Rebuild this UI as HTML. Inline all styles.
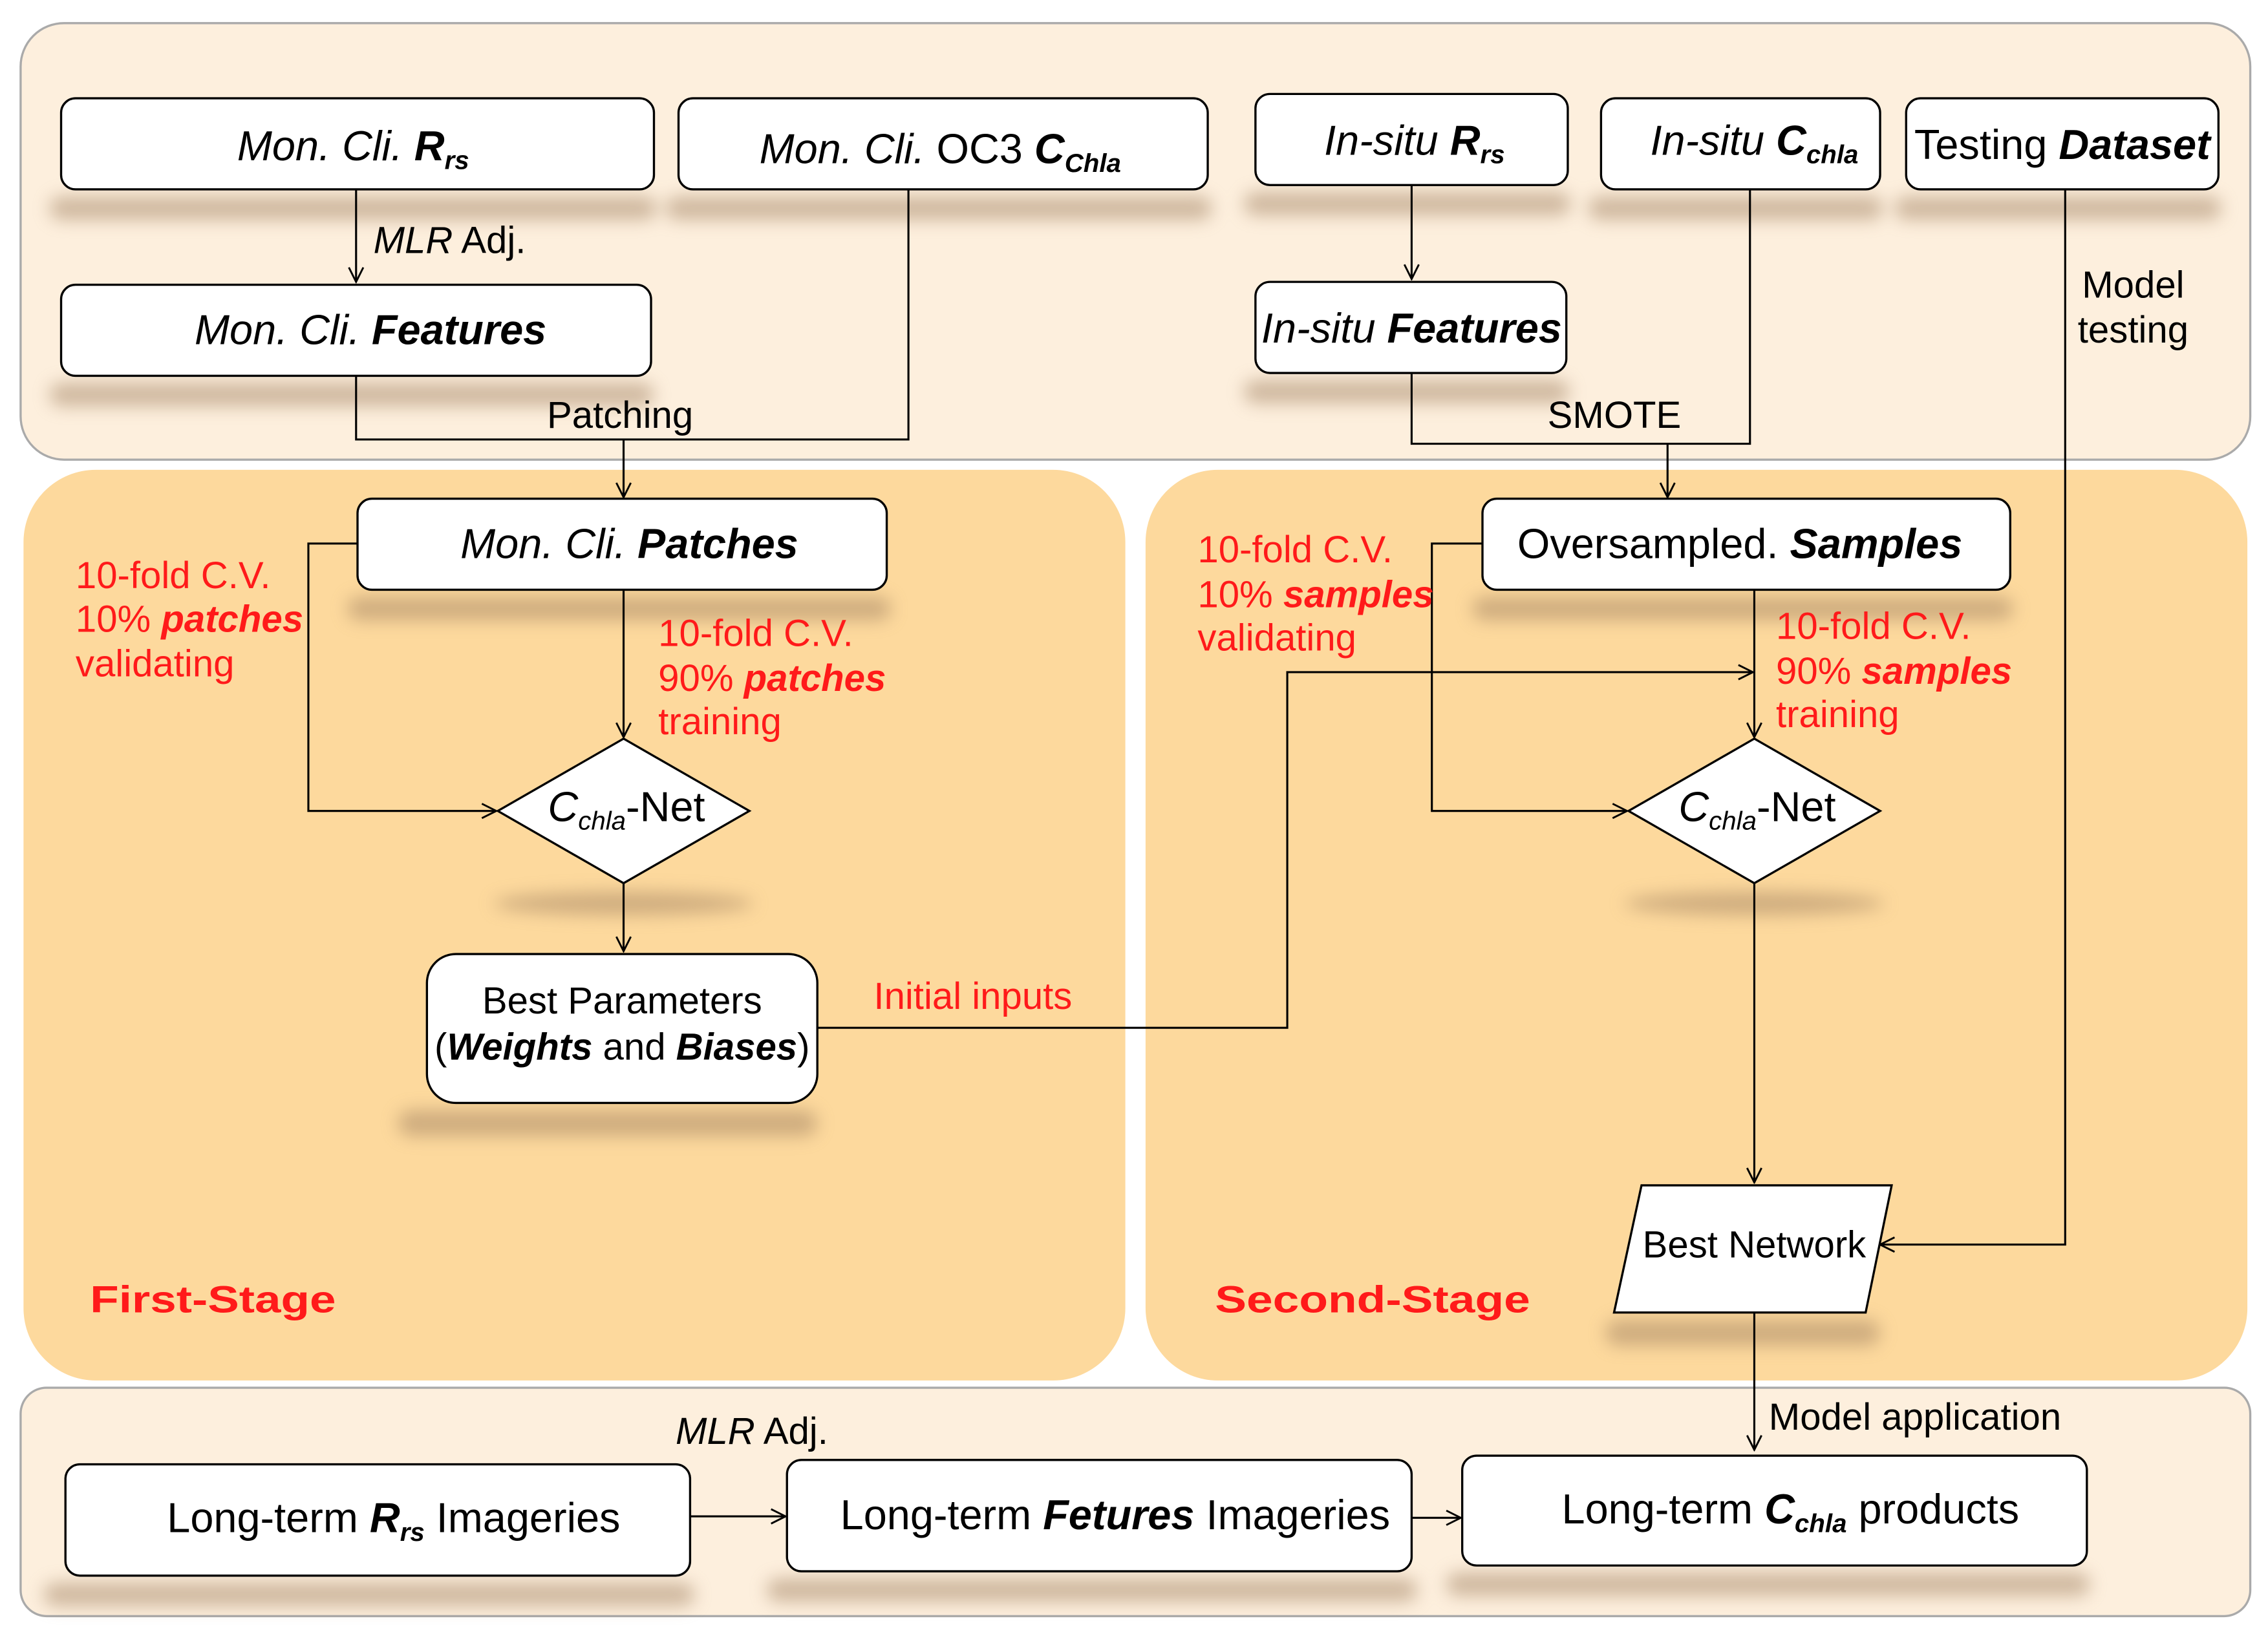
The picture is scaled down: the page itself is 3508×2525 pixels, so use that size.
<!DOCTYPE html>
<html><head><meta charset="utf-8"><style>
html,body{margin:0;padding:0;background:#fff;}
svg{display:block;}
text{font-family:"Liberation Sans",Arial,sans-serif;font-size:26px;fill:#000;}
.b{font-size:29px;}
.r{fill:#ff1a1a;}
</style></head><body>
<svg width="3508" height="2525" viewBox="0 0 1568 1129" xmlns="http://www.w3.org/2000/svg">
<defs>
<filter id="sh" x="-20%" y="-150%" width="140%" height="400%"><feGaussianBlur stdDeviation="6"/></filter>
<marker id="a" viewBox="0 0 12 12" refX="11" refY="6" markerWidth="12" markerHeight="12" markerUnits="userSpaceOnUse" orient="auto"><path d="M1,1 L11,6 L1,11" fill="none" stroke="#000" stroke-width="1.3"/></marker>
</defs>
<rect x="14" y="16" width="1542" height="302" rx="30" fill="#fdefdd" stroke="#aaa" stroke-width="1.5"/>
<rect x="16" y="325" width="762" height="630" rx="50" fill="#fdd99d"/>
<rect x="792" y="325" width="762" height="630" rx="50" fill="#fdd99d"/>
<rect x="14" y="960" width="1542" height="158" rx="18" fill="#fdefdd" stroke="#aaa" stroke-width="1.5"/>
<g fill="#a08060" opacity="0.5" filter="url(#sh)">
<rect x="34" y="136" width="420" height="16" rx="8"/>
<rect x="460" y="136" width="378" height="16" rx="8"/>
<rect x="34" y="265" width="418" height="16" rx="8"/>
<rect x="860" y="133" width="226" height="16" rx="8"/>
<rect x="1098" y="136" width="204" height="16" rx="8"/>
<rect x="1310" y="136" width="226" height="16" rx="8"/>
<rect x="860" y="263" width="225" height="16" rx="8"/>
<rect x="240" y="413" width="376" height="16" rx="8"/>
<rect x="1018" y="413" width="374" height="16" rx="8"/>
<ellipse cx="431" cy="625" rx="90" ry="8"/>
<ellipse cx="1213" cy="625" rx="90" ry="8"/>
<rect x="275" y="768" width="290" height="18" rx="9"/>
<rect x="1110" y="913" width="190" height="18" rx="9"/>
<rect x="30" y="1095" width="450" height="16" rx="8"/>
<rect x="530" y="1092" width="450" height="16" rx="8"/>
<rect x="1000" y="1088" width="445" height="16" rx="8"/>
</g>
<g fill="#fff" stroke="#000" stroke-width="1.5">
<rect x="42" y="68" width="410" height="63" rx="10"/>
<rect x="469" y="68" width="366" height="63" rx="10"/>
<rect x="42" y="197" width="408" height="63" rx="10"/>
<rect x="868" y="65" width="216" height="63" rx="10"/>
<rect x="1107" y="68" width="193" height="63" rx="10"/>
<rect x="1318" y="68" width="216" height="63" rx="10"/>
<rect x="868" y="195" width="215" height="63" rx="10"/>
<rect x="247" y="345" width="366" height="63" rx="10"/>
<rect x="1025" y="345" width="365" height="63" rx="10"/>
<rect x="295" y="660" width="270" height="103" rx="20"/>
<polygon points="344,561 431,511 518,561 431,611"/>
<polygon points="1126,561 1213,511 1300,561 1213,611"/>
<polygon points="1135,820 1308,820 1290,908 1116,908"/>
<rect x="45" y="1013" width="432" height="77" rx="10"/>
<rect x="544" y="1010" width="432" height="77" rx="10"/>
<rect x="1011" y="1007" width="432" height="76" rx="10"/>
</g>
<g fill="none" stroke="#000" stroke-width="1.4">
<path d="M246,131 V195" marker-end="url(#a)"/>
<path d="M246,260 V304 H628 V131"/>
<path d="M431,304 V344" marker-end="url(#a)"/>
<path d="M976,128 V193" marker-end="url(#a)"/>
<path d="M976,258 V307 H1210 V131"/>
<path d="M1153,307 V344" marker-end="url(#a)"/>
<path d="M1428,131 V861 H1300" marker-end="url(#a)"/>
<path d="M247,376 H213 V561 H343" marker-end="url(#a)"/>
<path d="M431,408 V510" marker-end="url(#a)"/>
<path d="M431,611 V658" marker-end="url(#a)"/>
<path d="M565,711 H890 V465 H1212" marker-end="url(#a)"/>
<path d="M1025,376 H990 V561 H1125" marker-end="url(#a)"/>
<path d="M1213,408 V510" marker-end="url(#a)"/>
<path d="M1213,611 V818" marker-end="url(#a)"/>
<path d="M1213,908 V1003" marker-end="url(#a)"/>
<path d="M477,1049 H543" marker-end="url(#a)"/>
<path d="M976,1050 H1010" marker-end="url(#a)"/>
</g>
<g text-anchor="middle">
<text class="b" x="244" y="111" font-style="italic">Mon. Cli. <tspan font-weight="bold">R</tspan><tspan font-weight="bold" font-size="18" dy="6">rs</tspan></text>
<text class="b" x="650" y="113" font-style="italic">Mon. Cli. <tspan font-style="normal">OC3</tspan> <tspan font-weight="bold">C</tspan><tspan font-weight="bold" font-size="18" dy="6">Chla</tspan></text>
<text class="b" x="256" y="238" font-style="italic">Mon. Cli. <tspan font-weight="bold">Features</tspan></text>
<text class="b" x="978" y="107" font-style="italic">In-situ <tspan font-weight="bold">R</tspan><tspan font-weight="bold" font-size="18" dy="6">rs</tspan></text>
<text class="b" x="1213" y="107" font-style="italic">In-situ <tspan font-weight="bold">C</tspan><tspan font-weight="bold" font-size="18" dy="6">chla</tspan></text>
<text class="b" x="1426" y="110">Testing <tspan font-style="italic" font-weight="bold">Dataset</tspan></text>
<text class="b" x="976" y="237" font-style="italic">In-situ <tspan font-weight="bold">Features</tspan></text>
<text class="b" x="435" y="386" font-style="italic">Mon. Cli. <tspan font-weight="bold">Patches</tspan></text>
<text class="b" x="1203" y="386">Oversampled. <tspan font-style="italic" font-weight="bold">Samples</tspan></text>
<text x="430" y="701">Best Parameters</text>
<text x="430" y="733">(<tspan font-style="italic" font-weight="bold">Weights</tspan> and <tspan font-style="italic" font-weight="bold">Biases</tspan>)</text>
<text class="b" x="433" y="568"><tspan font-style="italic">C</tspan><tspan font-style="italic" font-size="18" dy="6">chla</tspan><tspan dy="-6">-Net</tspan></text>
<text class="b" x="1215" y="568"><tspan font-style="italic">C</tspan><tspan font-style="italic" font-size="18" dy="6">chla</tspan><tspan dy="-6">-Net</tspan></text>
<text x="1213" y="870">Best Network</text>
<text class="b" x="272" y="1060">Long-term <tspan font-style="italic" font-weight="bold">R</tspan><tspan font-style="italic" font-weight="bold" font-size="18" dy="6">rs</tspan><tspan dy="-6"> Imageries</tspan></text>
<text class="b" x="771" y="1058">Long-term <tspan font-style="italic" font-weight="bold">Fetures</tspan> Imageries</text>
<text class="b" x="1238" y="1054">Long-term <tspan font-style="italic" font-weight="bold">C</tspan><tspan font-style="italic" font-weight="bold" font-size="18" dy="6">chla</tspan><tspan dy="-6"> products</tspan></text>
<text x="1475" y="206">Model</text>
<text x="1475" y="237">testing</text>
</g>
<text x="258" y="175"><tspan font-style="italic">MLR</tspan> Adj.</text>
<text x="378" y="296">Patching</text>
<text x="1070" y="296">SMOTE</text>
<text x="467" y="999"><tspan font-style="italic">MLR</tspan> Adj.</text>
<text x="1223" y="989">Model application</text>
<text class="r" x="52" y="407">10-fold C.V.</text>
<text class="r" x="52" y="437">10% <tspan font-style="italic" font-weight="bold">patches</tspan></text>
<text class="r" x="52" y="468">validating</text>
<text class="r" x="455" y="447">10-fold C.V.</text>
<text class="r" x="455" y="478">90% <tspan font-style="italic" font-weight="bold">patches</tspan></text>
<text class="r" x="455" y="508">training</text>
<text class="r" x="828" y="389">10-fold C.V.</text>
<text class="r" x="828" y="420">10% <tspan font-style="italic" font-weight="bold">samples</tspan></text>
<text class="r" x="828" y="450">validating</text>
<text class="r" x="1228" y="442">10-fold C.V.</text>
<text class="r" x="1228" y="473">90% <tspan font-style="italic" font-weight="bold">samples</tspan></text>
<text class="r" x="1228" y="503">training</text>
<text class="r" x="604" y="698">Initial inputs</text>
<text class="r" x="62" y="908" font-size="34" font-weight="bold" textLength="170" lengthAdjust="spacingAndGlyphs">First-Stage</text>
<text class="r" x="840" y="908" font-size="34" font-weight="bold" textLength="218" lengthAdjust="spacingAndGlyphs">Second-Stage</text>
</svg>
</body></html>
